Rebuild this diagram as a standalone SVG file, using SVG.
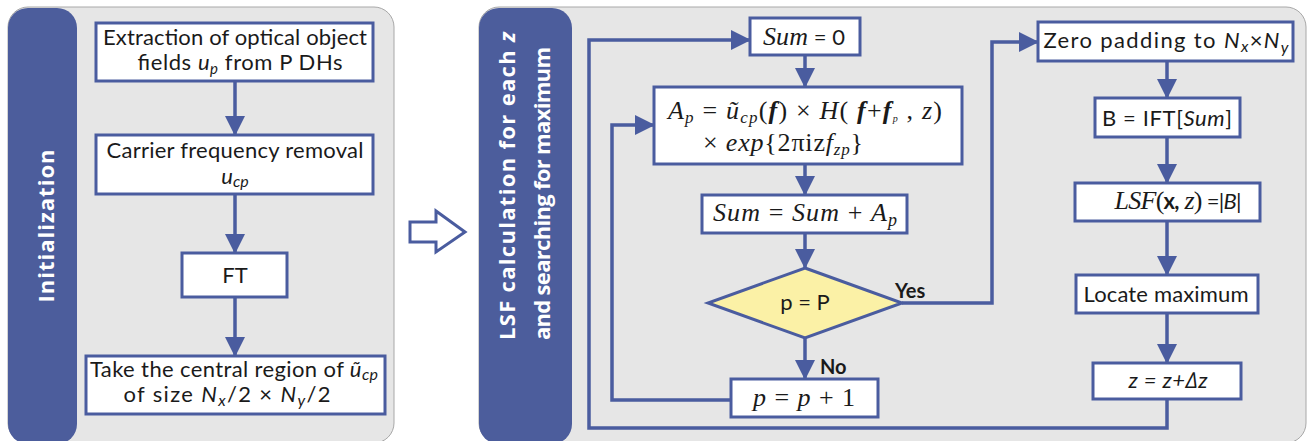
<svg xmlns="http://www.w3.org/2000/svg" width="1310" height="441" viewBox="0 0 1310 441">
<defs>
<marker id="ah" markerUnits="userSpaceOnUse" markerWidth="20" markerHeight="20" refX="19" refY="10" orient="auto">
<path d="M0,0 L20,10 L0,20 z" fill="#4A5C9F"/>
</marker>
<style>
.panel{fill:#E6E6E6;stroke:#A8A8A8;stroke-width:1}
.bar{fill:#4C5D9C}
.box{fill:#FFFFFF;stroke:#4A5C9F;stroke-width:3}
.dia{fill:#FBF1A6;stroke:#4A5C9F;stroke-width:3}
.ca{fill:none;stroke:#4A5C9F;stroke-width:3.5;marker-end:url(#ah)}
.t{font-family:Lato,"Open Sans",sans-serif;font-size:22px;fill:#1A1A1A}
.m{font-family:"Liberation Serif",serif;font-size:26px;fill:#1A1A1A}
.i{font-style:italic}
.b{font-weight:bold}
.bt{font-family:"Open Sans",Lato,sans-serif;font-size:22px;font-weight:bold;fill:#FFFFFF}
.lab{font-family:Lato,"Open Sans",sans-serif;font-size:20px;font-weight:bold;fill:#1A1A1A}
</style>
</defs>
<rect width="1310" height="441" fill="#FFFFFF"/>
<g id="panel-init">
<rect class="panel" x="8" y="7" width="386" height="436" rx="20"/>
<rect class="bar" x="8" y="8" width="69" height="436" rx="20"/>
<text class="bt" font-size="24" transform="translate(54,226) rotate(-90)" text-anchor="middle" textLength="153">Initialization</text>
</g>
<g id="panel-lsf">
<rect class="panel" x="479" y="7" width="827" height="436" rx="20"/>
<rect class="bar" x="479" y="8" width="93" height="436" rx="20"/>
<text class="bt" transform="translate(515,340) rotate(-90)" textLength="308">LSF calculation for each  <tspan class="i">z</tspan></text>
<text class="bt" transform="translate(550,340) rotate(-90)" textLength="293">and searching for maximum</text>
</g>
<g id="big-arrow">
<polygon points="410,222 436,222 436,211 465,232 436,252 436,242 410,242" fill="#FFFFFF" stroke="#4A5C9F" stroke-width="3" stroke-linejoin="miter"/>
</g>
<g id="connectors">
<path class="ca" d="M235,81 V135"/>
<path class="ca" d="M235,194 V253"/>
<path class="ca" d="M235,297 V356"/>
<path class="ca" d="M805,55 V87"/>
<path class="ca" d="M805,164 V195"/>
<path class="ca" d="M805,233 V268"/>
<path class="ca" d="M805,338 V379"/>
<path class="ca" d="M902,303 H992 V42 H1038"/>
<path class="ca" d="M731,400 H612 V125 H654"/>
<path class="ca" d="M1167,61 V98"/>
<path class="ca" d="M1167,137 V183"/>
<path class="ca" d="M1167,221 V275"/>
<path class="ca" d="M1167,313 V363"/>
<path class="ca" d="M1167,399 V428 H589 V40 H750"/>
<text class="lab" x="895" y="298">Yes</text>
<text class="lab" x="820" y="374">No</text>
</g>
<g id="n-extract">
<rect class="box" x="96" y="23" width="277" height="58"/>
<text class="t" x="235" y="45" text-anchor="middle" textLength="264">Extraction of optical object</text>
<text class="t" x="240" y="70" text-anchor="middle" textLength="205">fields  <tspan class="i">u</tspan><tspan class="i" font-size="15" dy="4">p</tspan><tspan dy="-4">  from P DHs</tspan></text>
</g>
<g id="n-carrier">
<rect class="box" x="96" y="135" width="277" height="59"/>
<text class="t" x="235" y="158" text-anchor="middle" textLength="257">Carrier frequency removal</text>
<text class="t" x="235" y="184" text-anchor="middle"><tspan class="i">u</tspan><tspan class="i" font-size="16" dy="3">cp</tspan></text>
</g>
<g id="n-ft">
<rect class="box" x="182" y="253" width="105" height="44"/>
<text class="t" x="235" y="283" text-anchor="middle">FT</text>
</g>
<g id="n-central">
<rect class="box" x="86" y="356" width="299" height="58"/>
<text class="t" x="234" y="377" text-anchor="middle" textLength="288">Take the central region of <tspan class="i">ũ</tspan><tspan class="i" font-size="16" dy="3">cp</tspan></text>
<text class="t" x="227" y="402" text-anchor="middle" textLength="207">of size  <tspan class="i">N</tspan><tspan class="i" font-size="16" dy="4">x</tspan><tspan dy="-4">/2 × </tspan><tspan class="i">N</tspan><tspan class="i" font-size="16" dy="4">y</tspan><tspan dy="-4">/2</tspan></text>
</g>
<g id="n-sum0">
<rect class="box" x="750" y="18" width="110" height="37"/>
<text x="804" y="45" text-anchor="middle" textLength="82"><tspan class="m i">Sum</tspan><tspan class="t"> = 0</tspan></text>
</g>
<g id="n-ap">
<rect class="box" x="654" y="87" width="308" height="77"/>
<text class="m" font-size="24" x="668" y="119" textLength="274"><tspan class="i">A</tspan><tspan class="i" font-size="17" dy="4">p</tspan><tspan dy="-4"> = </tspan><tspan class="i">ũ</tspan><tspan class="i" font-size="17" dy="4">cp</tspan><tspan dy="-4">(</tspan><tspan class="i b">f</tspan><tspan>) × </tspan><tspan class="i">H</tspan><tspan>( </tspan><tspan class="i b">f</tspan><tspan>+</tspan><tspan class="i b">f</tspan><tspan class="i" font-size="10" dy="3">p</tspan><tspan dy="-3"> , </tspan><tspan class="i">z</tspan><tspan>)</tspan></text>
<text class="m" font-size="24" x="703" y="151" textLength="160"><tspan>× </tspan><tspan class="i">exp</tspan><tspan>{2πiz</tspan><tspan class="i">f</tspan><tspan class="i" font-size="17" dy="4">zp</tspan><tspan dy="-4">}</tspan></text>
</g>
<g id="n-sum">
<rect class="box" x="702" y="195" width="205" height="38"/>
<text class="m" x="805" y="221" text-anchor="middle" textLength="184"><tspan class="i">Sum</tspan> = <tspan class="i">Sum</tspan> + <tspan class="i">A</tspan><tspan class="i" font-size="18" dy="5">p</tspan></text>
</g>
<g id="n-decision">
<polygon class="dia" points="805,268 902,303 805,338 708,303"/>
<text class="t" x="805" y="310" text-anchor="middle">p = P</text>
</g>
<g id="n-pinc">
<rect class="box" x="731" y="379" width="147" height="38"/>
<text class="m" x="804" y="406" text-anchor="middle" textLength="102"><tspan class="i">p</tspan> = <tspan class="i">p</tspan> + 1</text>
</g>
<g id="n-zero">
<rect class="box" x="1038" y="22" width="255" height="39"/>
<text class="t" x="1166" y="48" text-anchor="middle" textLength="245">Zero padding to <tspan class="i">N</tspan><tspan class="i" font-size="16" dy="4">x</tspan><tspan dy="-4">×</tspan><tspan class="i">N</tspan><tspan class="i" font-size="16" dy="5">y</tspan></text>
</g>
<g id="n-ift">
<rect class="box" x="1095" y="98" width="145" height="39"/>
<text class="t" x="1167" y="126" text-anchor="middle" textLength="130">B = IFT[<tspan class="i">Sum</tspan>]</text>
</g>
<g id="n-lsf">
<rect class="box" x="1075" y="183" width="185" height="38"/>
<text x="1178" y="209" text-anchor="middle" textLength="127"><tspan class="m i">LSF</tspan><tspan class="m">(</tspan><tspan class="t b">x,</tspan><tspan class="m i"> z</tspan><tspan class="m">)</tspan><tspan class="t"> =|</tspan><tspan class="t i">B</tspan><tspan class="t">|</tspan></text>
</g>
<g id="n-locate">
<rect class="box" x="1076" y="275" width="182" height="38"/>
<text class="t" x="1166" y="302" text-anchor="middle" textLength="165">Locate maximum</text>
</g>
<g id="n-z">
<rect class="box" x="1093" y="363" width="148" height="36"/>
<text class="t i" x="1168" y="388" text-anchor="middle" textLength="79">z = z+∆z</text>
</g>
</svg>
